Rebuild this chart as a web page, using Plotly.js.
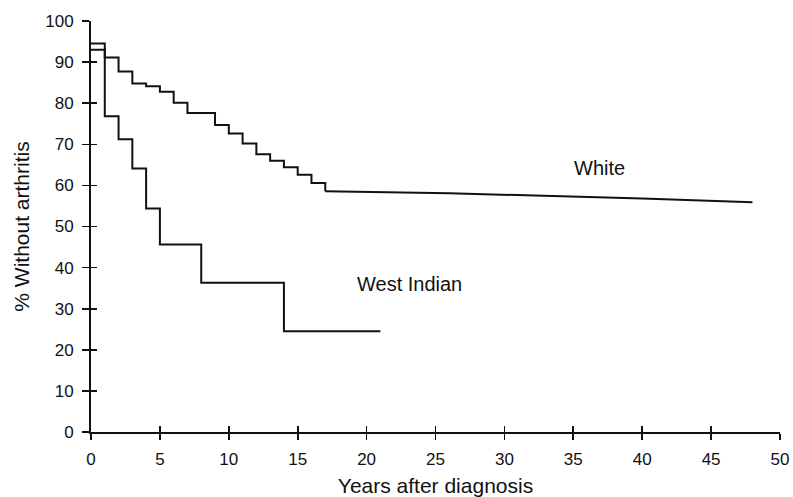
<!DOCTYPE html>
<html><head><meta charset="utf-8">
<script src="https://cdn.plot.ly/plotly-3.0.1.min.js"></script>
<style>html,body{margin:0;padding:0;background:#fff}#chart{width:793px;height:497px}</style>
</head><body><div id="chart"></div>
<script>
// Kaplan-Meier style step data
const whiteTimes = [0, 1, 2, 3, 4, 5, 6, 7, 9, 10, 11, 12, 13, 14, 15, 16, 17];
const whiteSurv  = [94.5, 91.1, 87.7, 84.8, 84.1, 82.8, 80.1, 77.6, 74.7, 72.6, 70.2, 67.6, 66.0, 64.4, 62.6, 60.6, 58.6];
const whiteTailTimes = [17, 26, 40, 48];
const whiteTailSurv  = [58.6, 58.1, 56.8, 55.9];
const wiTimes = [0, 1, 2, 3, 4, 5, 8, 14, 21];
const wiSurv  = [93.0, 76.8, 71.2, 64.1, 54.4, 45.6, 36.3, 24.5, 24.5];
const xTicks = [0, 5, 10, 15, 20, 25, 30, 35, 40, 45, 50];
const yTicks = [0, 10, 20, 30, 40, 50, 60, 70, 80, 90, 100];
const seriesLabels = ["White", "West Indian"];

const lineStyle = {color: '#111', width: 2};
const font = {family: 'Liberation Sans, Arial, sans-serif', color: '#111'};

const traces = [
  {x: whiteTimes, y: whiteSurv, mode: 'lines', line: Object.assign({shape: 'hv'}, lineStyle), hoverinfo: 'skip'},
  {x: whiteTailTimes, y: whiteTailSurv, mode: 'lines', line: Object.assign({shape: 'linear'}, lineStyle), hoverinfo: 'skip'},
  {x: wiTimes, y: wiSurv, mode: 'lines', line: Object.assign({shape: 'hv'}, lineStyle), hoverinfo: 'skip'},
  // invisible trace driving the overlay axes (crossing tick marks)
  {x: [0], y: [0], xaxis: 'x2', yaxis: 'y2', mode: 'markers', marker: {opacity: 0}, hoverinfo: 'skip'}
];

const axisCommon = {
  showgrid: false, zeroline: false, showline: true, linecolor: '#111', linewidth: 2,
  ticks: 'outside', ticklen: 6, tickwidth: 1.6, tickcolor: '#111',
  tickfont: Object.assign({size: 17}, font)
};

const layout = {
  width: 793, height: 497,
  margin: {l: 91, r: 13, t: 21, b: 65},
  paper_bgcolor: '#fff', plot_bgcolor: '#fff',
  showlegend: false,
  xaxis: Object.assign({}, axisCommon, {
    range: [0, 50], tickvals: xTicks, ticktext: xTicks.map(String), ticklabelstandoff: 5,
    title: {text: 'Years after diagnosis', font: Object.assign({size: 21}, font), standoff: 10}
  }),
  yaxis: Object.assign({}, axisCommon, {
    range: [0, 100], tickvals: yTicks, ticktext: yTicks.map(String), ticklen: 7, ticklabelstandoff: 5,
    title: {text: '% Without arthritis', font: Object.assign({size: 21}, font), standoff: 10}
  }),
  xaxis2: {overlaying: 'x', range: [0, 50], tickvals: xTicks, showticklabels: false, ticks: 'inside', ticklen: 6, tickwidth: 1.6, tickcolor: '#111', showgrid: false, zeroline: false, showline: false, side: 'bottom', anchor: 'y2'},
  yaxis2: {overlaying: 'y', range: [0, 100], tickvals: yTicks, showticklabels: false, ticks: 'inside', ticklen: 6, tickwidth: 1.6, tickcolor: '#111', showgrid: false, zeroline: false, showline: false, side: 'left', anchor: 'x2'},
  annotations: [
    {x: 36.9, y: 64.2, xref: 'x', yref: 'y', text: seriesLabels[0], showarrow: false, font: Object.assign({size: 20}, font)},
    {x: 23.1, y: 36.0, xref: 'x', yref: 'y', text: seriesLabels[1], showarrow: false, font: Object.assign({size: 20}, font)}
  ]
};

Plotly.newPlot('chart', traces, layout, {staticPlot: true, displayModeBar: false});
</script>
</body></html>
